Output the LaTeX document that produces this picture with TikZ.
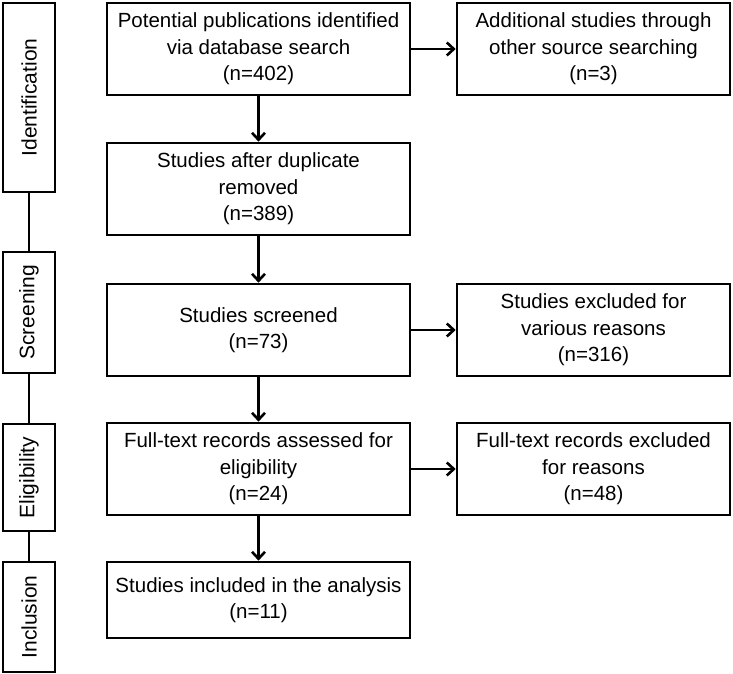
\documentclass[tikz,border=0pt]{standalone}
\usepackage{fontspec}
\setmainfont{Liberation Sans}
\usetikzlibrary{arrows.meta}
\begin{document}
\begin{tikzpicture}[x=1pt,y=-1pt,
  box/.style={draw=black, line width=2.6pt, align=center, inner sep=0pt,
    font=\fontsize{20.5}{26.5}\selectfont},
  phase/.style={draw=black, line width=2.6pt, rotate=90, inner sep=0pt,
    font=\fontsize{21}{26}\selectfont},
  mid/.style={box, minimum width=303pt},
  side/.style={box, minimum width=273pt},
  arr/.style={line width=2.6pt, -{Straight Barb[length=7pt,width=13pt,line width=2.6pt]}},
  link/.style={line width=2.6pt}]
\useasboundingbox[fill=white] (0,0) rectangle (733,674);
% phase boxes
\node[phase, minimum width=189pt, minimum height=52pt] (idf) at (29,97.5) {Identification};
\node[phase, minimum width=121pt, minimum height=52pt] (scr) at (29,312.5) {Screening};
\node[phase, minimum width=107pt, minimum height=52pt] (elg) at (29,477.5) {Eligibility};
\node[phase, minimum width=110pt, minimum height=52pt] (inc) at (29,617) {Inclusion};
\draw[link] (idf) -- (scr);
\draw[link] (scr) -- (elg);
\draw[link] (elg) -- (inc);
% middle column
\node[mid, minimum height=92pt] (pot) at (258.5,49) {Potential publications identified\\via database search\\(n=402)};
\node[mid, minimum height=92pt] (dup) at (258.5,189) {Studies after duplicate\\removed\\(n=389)};
\node[mid, minimum height=92pt] (scd) at (258.5,330) {Studies screened\\(n=73)};
\node[mid, minimum height=92pt] (ftr) at (258.5,469) {Full-text records assessed for\\eligibility\\(n=24)};
\node[mid, minimum height=76pt] (inl) at (258.5,600) {Studies included in the analysis\\(n=11)};
% right column
\node[side, minimum height=92pt] (add) at (593.5,49) {Additional studies through\\other source searching\\(n=3)};
\node[side, minimum height=92pt] (exc) at (593.5,330) {Studies excluded for\\various reasons\\(n=316)};
\node[side, minimum height=92pt] (fte) at (593.5,469) {Full-text records excluded\\for reasons\\(n=48)};
% arrows
\draw[arr] (pot) -- (add);
\draw[arr] (pot) -- (dup);
\draw[arr] (dup) -- (scd);
\draw[arr] (scd) -- (exc);
\draw[arr] (scd) -- (ftr);
\draw[arr] (ftr) -- (fte);
\draw[arr] (ftr) -- (inl);
\end{tikzpicture}
\end{document}
